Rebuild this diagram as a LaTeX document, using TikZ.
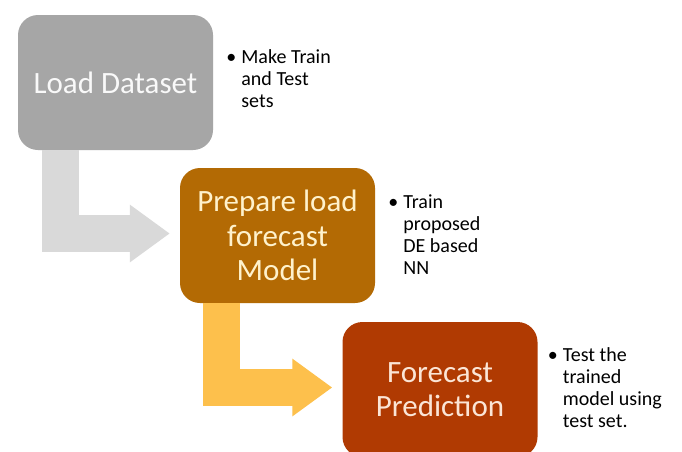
\documentclass[tikz,border=0pt]{standalone}
\usepackage{fontspec}
\setmainfont{Carlito}
\usetikzlibrary{arrows.meta}
\definecolor{boxgray}{HTML}{A6A6A6}
\definecolor{arrgray}{HTML}{D9D9D9}
\definecolor{boxbrown}{HTML}{B36A04}
\definecolor{arrgold}{HTML}{FDC04C}
\definecolor{boxred}{HTML}{B03A02}
\definecolor{txtyellow}{HTML}{FFF2CC}
\definecolor{txtpeach}{HTML}{FBE5D6}
\tikzset{
  stepbox/.style={rounded corners=20pt, minimum width=195pt, minimum height=135pt,
    inner sep=0pt, align=center, font=\fontsize{31}{34.5}\selectfont},
  notes/.style={anchor=west, inner sep=0pt, font=\fontsize{20}{22}\selectfont, text=black},
  bentarrow/.style={line width=37pt, line join=miter, line cap=butt,
    -{Triangle[length=40pt,width=55pt]}}
}
\newcommand{\blt}{\makebox[15pt][l]{\textbullet}}
\begin{document}
\begin{tikzpicture}[x=1pt,y=-1pt]
\clip (0,0) rectangle (682,451);
\fill[white] (0,0) rectangle (682,451);
\node[stepbox, fill=boxgray, text=white!95!gray] (load) at (115.5,82.5) {Load Dataset};
\node[stepbox, fill=boxbrown, text=txtyellow] (prep) at (277.5,235.5) {Prepare load\\forecast\\Model};
\node[stepbox, fill=boxred, text=txtpeach] (pred) at (440,389.5) {Forecast\\Prediction};
\draw[bentarrow, draw=arrgray, arrgray] ([xshift=-55.5pt]load.south) |- ([xshift=-10pt,yshift=2pt]prep.west);
\draw[bentarrow, draw=arrgold, arrgold] ([xshift=-56pt]prep.south) |- ([xshift=-10pt,yshift=2pt]pred.west);
\node[notes] (n1) at ([xshift=13pt,yshift=1pt]load.east) {\begin{tabular}{@{}l@{}l@{}}\blt & Make Train\\ & and Test\\ & sets\end{tabular}};
\node[notes] (n2) at ([xshift=13pt,yshift=-2pt]prep.east) {\begin{tabular}{@{}l@{}l@{}}\blt & Train\\ & proposed\\ & DE based\\ & NN\end{tabular}};
\node[notes] (n3) at ([xshift=10pt,yshift=-1pt]pred.east) {\begin{tabular}{@{}l@{}l@{}}\blt & Test the\\ & trained\\ & model using\\ & test set.\end{tabular}};
\end{tikzpicture}
\end{document}
